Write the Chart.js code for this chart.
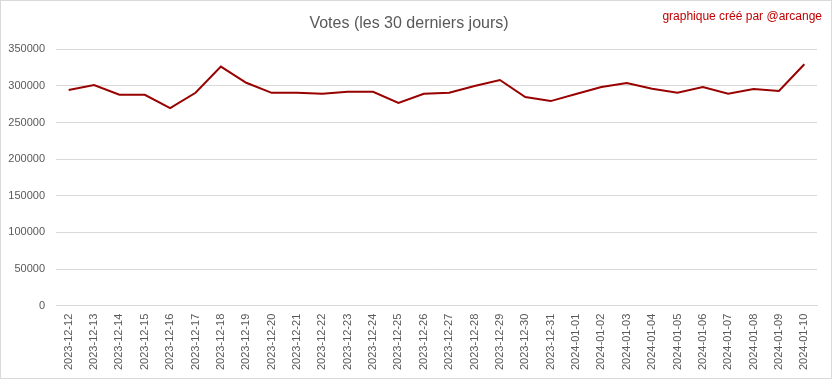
<!DOCTYPE html>
<html>
<head>
<meta charset="utf-8">
<script src="https://cdn.jsdelivr.net/npm/chart.js@4.4.1/dist/chart.umd.min.js"></script>
<style>
html,body{margin:0;padding:0;background:#fff;}
#wrap{position:relative;width:830px;height:377px;border:1px solid #d9d9d9;}
canvas{display:block;}
</style>
</head>
<body>
<div id="wrap"><canvas id="c" width="830" height="377"></canvas></div>
<script>
const categories = ["2023-12-12","2023-12-13","2023-12-14","2023-12-15","2023-12-16","2023-12-17","2023-12-18","2023-12-19","2023-12-20","2023-12-21","2023-12-22","2023-12-23","2023-12-24","2023-12-25","2023-12-26","2023-12-27","2023-12-28","2023-12-29","2023-12-30","2023-12-31","2024-01-01","2024-01-02","2024-01-03","2024-01-04","2024-01-05","2024-01-06","2024-01-07","2024-01-08","2024-01-09","2024-01-10"];
const votes = [294200,301100,287800,287800,269600,290500,326200,304200,290500,290500,289200,291900,291900,276800,289200,290500,299700,308000,284700,279200,288800,298400,303800,296000,290500,298400,289200,295600,292900,329500];
const yTicks = [0,50000,100000,150000,200000,250000,300000,350000];
const titleText = "Votes (les 30 derniers jours)";
const creditText = "graphique créé par @arcange";

const creditPlugin = {
  id: 'credit',
  afterDraw(chart) {
    const ctx = chart.ctx;
    ctx.save();
    ctx.font = '12px "Liberation Sans", Arial, sans-serif';
    ctx.fillStyle = '#c00000';
    ctx.textAlign = 'right';
    ctx.textBaseline = 'alphabetic';
    ctx.fillText(creditText, 821, 19);
    ctx.restore();
  }
};

new Chart(document.getElementById('c'), {
  type: 'line',
  data: {
    labels: categories,
    datasets: [{
      label: 'Votes',
      data: votes,
      borderColor: '#990000',
      backgroundColor: '#990000',
      borderWidth: 2,
      pointRadius: 0,
      tension: 0,
      fill: false
    }]
  },
  options: {
    responsive: false,
    animation: false,
    layout: { padding: { left: 0, right: 14, top: 0, bottom: 0 } },
    plugins: {
      legend: { display: false },
      tooltip: { enabled: false },
      title: {
        display: true,
        text: titleText,
        color: '#595959',
        font: { family: '"Liberation Sans", Arial, sans-serif', size: 16, weight: 'normal' },
        padding: { top: 13, bottom: 16 }
      }
    },
    scales: {
      x: {
        offset: true,
        grid: { display: false, drawTicks: false },
        border: { display: true, color: '#d9d9d9', width: 1 },
        ticks: {
          color: '#595959',
          font: { family: '"Liberation Sans", Arial, sans-serif', size: 11 },
          minRotation: 90,
          maxRotation: 90,
          autoSkip: false,
          padding: 8
        }
      },
      y: {
        min: 0,
        max: 350000,
        afterFit(scale) { scale.width = 55; },
        afterBuildTicks(scale) { scale.ticks = yTicks.map(v => ({ value: v })); },
        grid: { color: '#d9d9d9', drawTicks: false },
        border: { display: false },
        ticks: {
          color: '#595959',
          font: { family: '"Liberation Sans", Arial, sans-serif', size: 11 },
          padding: 11,
          callback: v => String(v)
        }
      }
    }
  },
  plugins: [creditPlugin]
});
</script>
</body>
</html>
